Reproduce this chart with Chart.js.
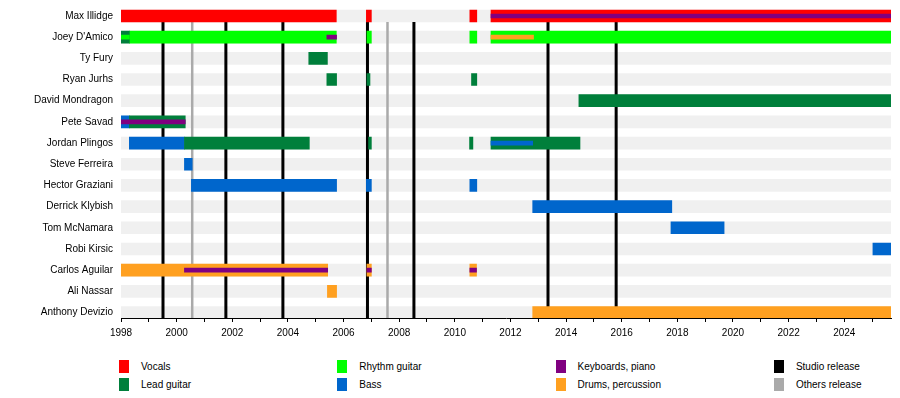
<!DOCTYPE html>
<html>
<head>
<meta charset="utf-8">
<script src="https://cdn.jsdelivr.net/npm/chart.js@4"></script>
<style>
  body { margin: 0; background: #fff; font-family: "Liberation Sans", Arial, sans-serif; }
  #wrap { position: relative; width: 900px; height: 398px; }
  #legend { position: absolute; left: 0; top: 0; }
  .item { position: absolute; font-size: 10px; color: #000; height: 13px; line-height: 13px; }
  .box { position: absolute; left: 0; top: 0; width: 10px; height: 13px; }
  .txt { position: absolute; left: 22px; top: 0; white-space: nowrap; }
</style>
</head>
<body>
<div id="wrap">
  <canvas id="myChart" width="900" height="345"></canvas>
  <div id="legend"></div>
</div>
<script>
// Band members (rows, top to bottom)
var members = ["Max Illidge", "Joey D'Amico", "Ty Fury", "Ryan Jurhs", "David Mondragon",
  "Pete Savad", "Jordan Plingos", "Steve Ferreira", "Hector Graziani", "Derrick Klybish",
  "Tom McNamara", "Robi Kirsic", "Carlos Aguilar", "Ali Nassar", "Anthony Devizio"];

var startYear = 1998;
var endYear = 2025.68;
var yearLabels = ["1998","2000","2002","2004","2006","2008","2010","2012","2014","2016","2018","2020","2022","2024"];

// [member row, from, to]
var vocals = [[0, 1998, 2005.74], [0, 2006.82, 2007.0], [0, 2010.54, 2010.79], [0, 2011.3, 2025.68]];
var leadGuitar = [[1, 1998, 1998.3], [2, 2004.75, 2005.42], [3, 2005.4, 2005.75], [3, 2006.84, 2006.95],
  [3, 2010.6, 2010.79], [4, 2014.46, 2025.68], [5, 1998.3, 2000.31], [6, 2000.28, 2004.77],
  [6, 2006.9, 2007.0], [6, 2010.53, 2010.65], [6, 2011.3, 2014.5]];
var rhythmGuitar = [[1, 1998.3, 2005.74], [1, 2006.84, 2007.0], [1, 2010.54, 2010.79], [1, 2011.3, 2025.68]];
var bass = [[5, 1998, 1998.3], [6, 1998.3, 2000.28], [7, 2000.28, 2000.56], [8, 2000.53, 2005.75],
  [8, 2006.82, 2007.0], [8, 2010.54, 2010.79], [9, 2012.8, 2017.8], [10, 2017.77, 2019.68], [11, 2025.03, 2025.68]];
var drums = [[12, 1998, 2005.43], [12, 2006.84, 2007.0], [12, 2010.54, 2010.78], [13, 2005.42, 2005.75], [14, 2012.8, 2025.68]];

// thin strips (secondary roles)
var keyboardsThin = [[0, 2011.3, 2025.68], [1, 2005.4, 2005.75], [5, 1998, 2000.31],
  [12, 2000.28, 2005.43], [12, 2006.84, 2007.0], [12, 2010.54, 2010.78]];
var drumsThin = [[1, 2011.3, 2012.83]];
var bassThin = [[6, 2011.3, 2012.8]];
var rhythmThin = [[1, 1998, 1998.3]];

// releases (vertical lines)
var studioReleases = [1999.51, 2001.77, 2003.82, 2006.86, 2008.53, 2013.35, 2015.8];
var otherReleases = [2000.56, 2007.58];

var legendLabels = ["Vocals", "Rhythm guitar", "Keyboards, piano", "Studio release",
  "Lead guitar", "Bass", "Drums, percussion", "Others release"];
var legendColors = ["#ff0000", "#00ff00", "#800080", "#000000",
  "#007f3b", "#0066cc", "#ffa020", "#aaaaaa"];

var colors = { vocals: "#ff0000", lead: "#007f3b", rhythm: "#00ff00", bass: "#0066cc",
  keys: "#800080", drums: "#ffa020", stripe: "#f0f0f0" };

function toPoints(list) {
  return list.map(function (d) { return { x: [d[1], d[2]], y: d[0] }; });
}

function barSet(label, list, color, thick, order) {
  return {
    label: label,
    data: toPoints(list),
    backgroundColor: color,
    barThickness: thick,
    grouped: false,
    borderWidth: 0,
    order: order
  };
}

var stripes = members.map(function (m, i) { return [i, startYear, endYear]; });

var releaseLines = {
  id: 'releaseLines',
  afterDatasetDraw: function (chart, args) {
    if (args.index !== 0) return;
    var xs = chart.scales.x, ys = chart.scales.y, ctx = chart.ctx;
    var top = ys.getPixelForValue(0) + 6;
    var bottom = chart.chartArea.bottom;
    ctx.save();
    function draw(list, color, w) {
      ctx.strokeStyle = color;
      ctx.lineWidth = w;
      list.forEach(function (v) {
        var px = xs.getPixelForValue(v);
        ctx.beginPath();
        ctx.moveTo(px, top);
        ctx.lineTo(px, bottom);
        ctx.stroke();
      });
    }
    draw(otherReleases, "#aaaaaa", 2.5);
    draw(studioReleases, "#000000", 3);
    ctx.restore();
  }
};

var ctx = document.getElementById("myChart");
var myChart = new Chart(ctx, {
  type: 'bar',
  data: {
    datasets: [
      barSet("stripes", stripes, colors.stripe, 12, 3),
      barSet("Vocals", vocals, colors.vocals, 12, 2),
      barSet("Lead guitar", leadGuitar, colors.lead, 12, 2),
      barSet("Rhythm guitar", rhythmGuitar, colors.rhythm, 12, 2),
      barSet("Bass", bass, colors.bass, 12, 2),
      barSet("Drums, percussion", drums, colors.drums, 12, 2),
      barSet("Keyboards thin", keyboardsThin, colors.keys, 4, 1),
      barSet("Drums thin", drumsThin, colors.drums, 4, 1),
      barSet("Bass thin", bassThin, colors.bass, 4, 1),
      barSet("Rhythm thin", rhythmThin, colors.rhythm, 4, 1)
    ]
  },
  options: {
    indexAxis: 'y',
    responsive: false,
    animation: false,
    layout: { padding: { top: 5.4, right: 9, bottom: 0, left: 0 } },
    plugins: { legend: { display: false }, tooltip: { enabled: false } },
    scales: {
      x: {
        type: 'linear',
        min: startYear,
        max: endYear,
        offset: false,
        afterBuildTicks: function (s) {
          var t = [];
          for (var y = startYear; y <= 2025; y++) t.push({ value: y });
          s.ticks = t;
        },
        afterFit: function (s) { s.height = 27; s.paddingLeft = 0; s.paddingRight = 0; },
        grid: { drawOnChartArea: false, drawTicks: true, tickLength: 4, color: '#000' },
        border: { display: true, color: '#000', width: 1 },
        ticks: {
          autoSkip: false, maxRotation: 0, padding: 5, color: '#000',
          font: { family: 'Liberation Sans', size: 10 },
          callback: function (v) { return yearLabels.indexOf(String(v)) >= 0 ? String(v) : ''; }
        }
      },
      y: {
        type: 'linear',
        reverse: true,
        offset: false,
        min: -0.5,
        max: 14.26,
        afterBuildTicks: function (s) {
          s.ticks = members.map(function (m, i) { return { value: i }; });
        },
        afterFit: function (s) { s.width = 121; s.paddingTop = 0; s.paddingBottom = 0; },
        grid: { display: false, drawTicks: false, offset: false },
        border: { display: false },
        ticks: {
          autoSkip: false, padding: 8, color: '#000',
          font: { family: 'Liberation Sans', size: 10 },
          callback: function (v) { return members[v]; }
        }
      }
    }
  },
  plugins: [releaseLines]
});

// legend, 4 columns x 2 rows
var legend = document.getElementById("legend");
legendLabels.forEach(function (lab, i) {
  var col = i % 4, row = Math.floor(i / 4);
  var el = document.createElement("div");
  el.className = "item";
  el.style.left = (119 + col * 218.3) + "px";
  el.style.top = (360 + row * 17.5) + "px";
  el.innerHTML = '<span class="box" style="background:' + legendColors[i] + '"></span><span class="txt"></span>';
  el.querySelector(".txt").textContent = lab;
  legend.appendChild(el);
});
</script>
</body>
</html>
